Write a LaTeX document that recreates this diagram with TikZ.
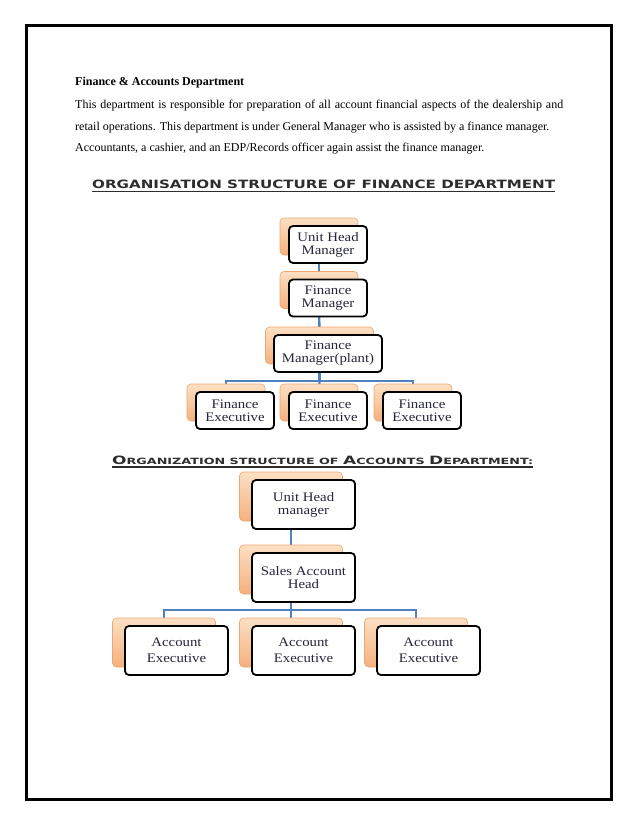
\documentclass[tikz,border=0pt]{standalone}
\usepackage{fontspec}
\setmainfont{Liberation Serif}
\newfontfamily\titlefont{DejaVu Sans}
\newfontfamily\boxfont[FakeStretch=1.14]{Liberation Serif}
\usetikzlibrary{backgrounds}
\definecolor{textc}{RGB}{38,38,58}
\definecolor{conn}{RGB}{79,129,189}
\definecolor{otop}{RGB}{252,224,196}
\definecolor{obot}{RGB}{245,176,124}
\definecolor{oedge}{RGB}{236,166,112}
\definecolor{titlec}{RGB}{45,45,45}
\begin{document}
\begin{tikzpicture}[x=1pt,y=-1pt,
  wbox/.style={draw=black, line width=1.8pt, rounded corners=4pt, fill=white,
    align=center, text=textc, inner sep=0pt,
    font=\boxfont\fontsize{13}{13}\selectfont},
  obox/.style={draw=oedge, line width=0.6pt, rounded corners=4pt,
    top color=otop, bottom color=obot, inner sep=0pt},
  fsize/.style={minimum width=78pt, minimum height=37pt},
  psize/.style={minimum width=108pt, minimum height=37pt},
  asize/.style={minimum width=103pt, minimum height=49pt},
  link/.style={draw=conn, line width=2.4pt},
  para/.style={anchor=base west, inner sep=0pt, font=\fontsize{12}{14}\selectfont},
  ttl/.style={anchor=base west, inner sep=0pt, text=titlec}
]
\useasboundingbox (0,0) rectangle (638,826);
\draw[line width=3pt] (26,26) rectangle (611,799);

% text
\node[para, font=\fontsize{12}{14}\selectfont\bfseries] (head) at (75,86) {Finance \& Accounts Department};
\node[para] (p1) at (75,109) {\makebox[488pt][s]{This department is responsible for preparation of all account financial aspects of the dealership and}};
\node[para] (p2) at (75,131) {retail operations. This department is under General Manager who is assisted by a finance manager.};
\node[para] (p3) at (75,152) {Accountants, a cashier, and an EDP/Records officer again assist the finance manager.};

% titles
\node[ttl] (t1) at (92,189) {\resizebox{463pt}{8.5pt}{\titlefont\bfseries ORGANISATION STRUCTURE OF FINANCE DEPARTMENT}};
\draw[line width=1.3pt, titlec] (92,191.5) -- (555,191.5);
\node[ttl] (t2) at (112,464) {\resizebox{421pt}{8.5pt}{\titlefont\bfseries
  {\fontsize{10}{10}\selectfont O}{\fontsize{7.5}{8}\selectfont RGANIZATION STRUCTURE OF }{\fontsize{10}{10}\selectfont A}{\fontsize{7.5}{8}\selectfont CCOUNTS }{\fontsize{10}{10}\selectfont D}{\fontsize{7.5}{8}\selectfont EPARTMENT:}}};
\draw[line width=1.3pt, titlec] (112,467) -- (533,467);

% finance chart
\node[obox, fsize] (fuo) at (319,236.5) {};
\node[wbox, fsize] (fu) at (328,244.5) {Unit Head\\Manager};
\node[obox, fsize] (fmo) at (319,290) {};
\node[wbox, fsize] (fm) at (328,298) {Finance\\Manager};
\node[obox, psize] (fpo) at (319.5,345.5) {};
\node[wbox, psize] (fp) at (328,353.5) {Finance\\Manager(plant)};
\node[obox, fsize] (fe1o) at (226,402.5) {};
\node[wbox, fsize] (fe1) at (235,410.5) {Finance\\Executive};
\node[obox, fsize] (fe2o) at (319,402.5) {};
\node[wbox, fsize] (fe2) at (328,410.5) {Finance\\Executive};
\node[obox, fsize] (fe3o) at (413,402.5) {};
\node[wbox, fsize] (fe3) at (422,410.5) {Finance\\Executive};
\coordinate (fbar) at (319.5,381);

% accounts chart
\node[obox, asize] (auo) at (291,496.5) {};
\node[wbox, asize] (au) at (303.5,504.5) {Unit Head\\manager};
\node[obox, asize] (aso) at (291,569.5) {};
\node[wbox, asize] (as) at (303.5,577.5) {Sales Account\\Head};
\node[obox, asize] (ae1o) at (164,642.5) {};
\node[wbox, asize, font=\boxfont\fontsize{13}{16}\selectfont] (ae1) at (176.5,650.5) {Account\\Executive};
\node[obox, asize] (ae2o) at (291,642.5) {};
\node[wbox, asize, font=\boxfont\fontsize{13}{16}\selectfont] (ae2) at (303.5,650.5) {Account\\Executive};
\node[obox, asize] (ae3o) at (416,642.5) {};
\node[wbox, asize, font=\boxfont\fontsize{13}{16}\selectfont] (ae3) at (428.5,650.5) {Account\\Executive};
\coordinate (abar) at (291,610);

\begin{scope}[on background layer]
  \draw[link] (fuo.center) -- (fmo.center);
  \draw[link] (fmo.center) -- (fpo.center);
  \draw[link] (fpo.center) -- (fbar);
  \draw[link] (fe1o.center) |- (fbar) -| (fe3o.center);
  \draw[link] (fbar) -- (fe2o.center);
  \draw[link] (auo.center) -- (aso.center);
  \draw[link] (aso.center) -- (abar);
  \draw[link] (ae1o.center) |- (abar) -| (ae3o.center);
  \draw[link] (abar) -- (ae2o.center);
\end{scope}
\end{tikzpicture}
\end{document}
